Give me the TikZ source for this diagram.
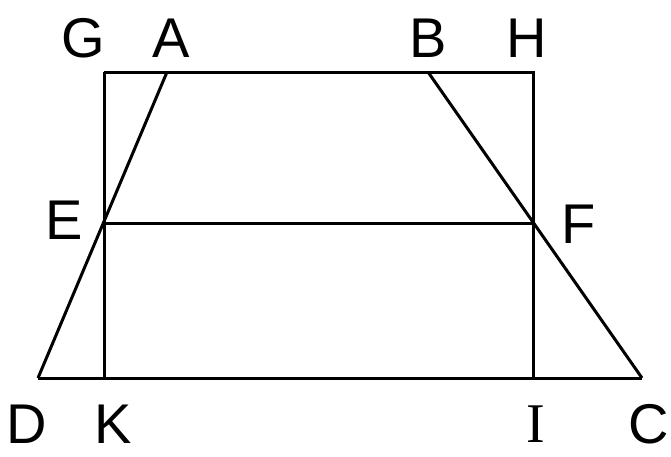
\documentclass[tikz,border=0pt]{standalone}
\usepackage{fontspec}
\setmainfont{Liberation Sans}
\newfontfamily\serifI{Liberation Serif}
\usepackage{tikz}
\usetikzlibrary{calc}

\begin{document}
\begin{tikzpicture}[x=1pt,y=-1pt]
  \tikzstyle{edge}=[line width=3pt,line join=miter]
  \tikzstyle{lbl}=[inner sep=0pt,font=\fontsize{56}{56}\selectfont]
  \useasboundingbox (0,0) rectangle (671,456);
  % points
  \coordinate (G) at (104,72);
  \coordinate (A) at (167,72);
  \coordinate (B) at (428,72);
  \coordinate (H) at (533,72);
  \coordinate (E) at (104,223);
  \coordinate (F) at (533,223);
  \coordinate (D) at (38,378);
  \coordinate (K) at (104,378);
  \coordinate (I) at (533,378);
  \coordinate (C) at (642,378);
  % labels
  \node[lbl] (lG) at (83,38) {G};
  \node[lbl] (lA) at (171,38) {A};
  \node[lbl] (lB) at (428,38) {B};
  \node[lbl] (lH) at (527,38) {H};
  \node[lbl] (lE) at (64,220) {E};
  \node[lbl] (lF) at (579,224) {F};
  \node[lbl] (lD) at (27,424) {D};
  \node[lbl] (lK) at (113,424) {K};
  \node[lbl] (lI) at (536,424) {\serifI I};
  \node[lbl] (lC) at (649,424) {C};
  % figure
  \draw[edge] (G) -- (H) -- (I);
  \draw[edge] (G) -- (K);
  \draw[edge] (D) -- (C);
  \draw[edge] (A) -- (D);
  \draw[edge] (B) -- (C);
  \draw[edge] (E) -- (F);
\end{tikzpicture}
\end{document}
